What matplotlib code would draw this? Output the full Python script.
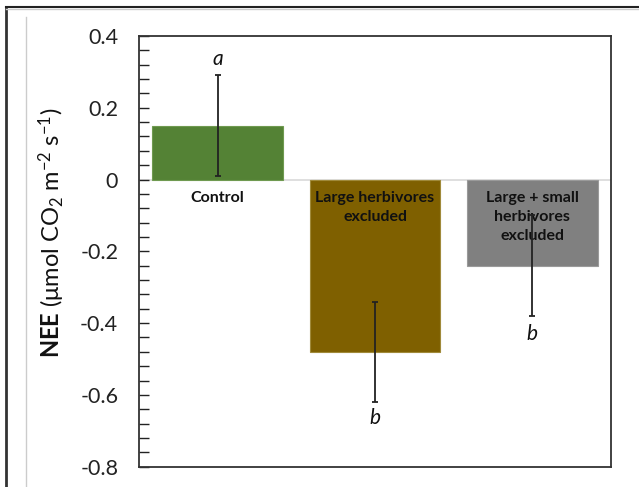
import numpy as np
import matplotlib
matplotlib.use("Agg")
import matplotlib.pyplot as plt
from matplotlib.lines import Line2D

# NEE by treatment
categories = ["Control", "Large herbivores\nexcluded", "Large + small\nherbivores\nexcluded"]
nee = [0.15, -0.48, -0.24]
nee_err = [0.14, 0.14, 0.14]
letters = ["a", "b", "b"]
colors = ["#548235", "#7F6000", "#808080"]
edge_colors = ["#6f9a50", "#a08a3a", "#9a9a9a"]

plt.rcParams['font.family'] = ['Lato', 'DejaVu Sans']
plt.rcParams['mathtext.fontset'] = 'custom'
plt.rcParams['mathtext.rm'] = 'Lato'
plt.rcParams['mathtext.it'] = 'Lato:italic'
plt.rcParams['mathtext.bf'] = 'Lato:bold'

fig = plt.figure(figsize=(6.39, 4.87), dpi=100)
ax = fig.add_axes([139/639, 1 - 466.7/487, (611 - 139)/639, (466.7 - 36)/487])

x = np.arange(len(categories))
ax.bar(x, nee, width=0.83, color=colors, edgecolor=edge_colors, linewidth=0.8, zorder=2)
ax.errorbar(x, nee, yerr=nee_err, fmt='none', ecolor='#222222', elinewidth=1.3,
            capsize=2.5, capthick=1.3, zorder=4)

# zero line
ax.axhline(0, color='#d9d9d9', lw=1.2, zorder=1)

ax.set_xlim(-0.5, 2.5)
ax.set_ylim(-0.8, 0.4)
ax.set_yticks(np.arange(-0.8, 0.41, 0.2))
ax.set_yticklabels(["-0.8", "-0.6", "-0.4", "-0.2", "0", "0.2", "0.4"])
ax.set_yticks(np.arange(-0.8, 0.41, 0.04), minor=True)
ax.tick_params(axis='y', which='both', direction='in', length=7, width=1, color='#222222',
               labelsize=15.5, pad=15, labelcolor='#222222')
ax.set_xticks([])

for s in ax.spines.values():
    s.set_color('#333333')
    s.set_linewidth(1.3)

# category labels under the zero line (error bars drawn over them)
for i, lab in enumerate(categories):
    ax.text(i, -0.031, lab, ha='center', va='top', fontsize=11.5, fontweight='bold',
            color='#111111', linespacing=1.45, zorder=3)

# significance letters
letter_y = [0.336, -0.664, -0.43]
for i, (let, ly) in enumerate(zip(letters, letter_y)):
    ax.text(i, ly, let, ha='center', va='center', fontsize=15, style='italic', color='#111111')

fig.text(52/639, 1 - 233/487, r"$\mathbf{NEE}$ (μmol CO$_2$ m$^{-2}$ s$^{-1}$)",
         rotation=90, ha='center', va='center', fontsize=17, color='#111111')

# outer frame lines
fig.add_artist(Line2D([5.5/639, 5.5/639], [0, 1 - 7/487], transform=fig.transFigure, color='#333333', lw=2))
fig.add_artist(Line2D([5.5/639, 1], [1 - 7/487, 1 - 7/487], transform=fig.transFigure, color='#222222', lw=1.5))
fig.add_artist(Line2D([5.5/639, 1], [1 - 9/487, 1 - 9/487], transform=fig.transFigure, color='#cccccc', lw=1))
fig.add_artist(Line2D([25.5/639, 25.5/639], [0, 1 - 17/487], transform=fig.transFigure, color='#cccccc', lw=1))

fig.savefig("out.png", dpi=100)
